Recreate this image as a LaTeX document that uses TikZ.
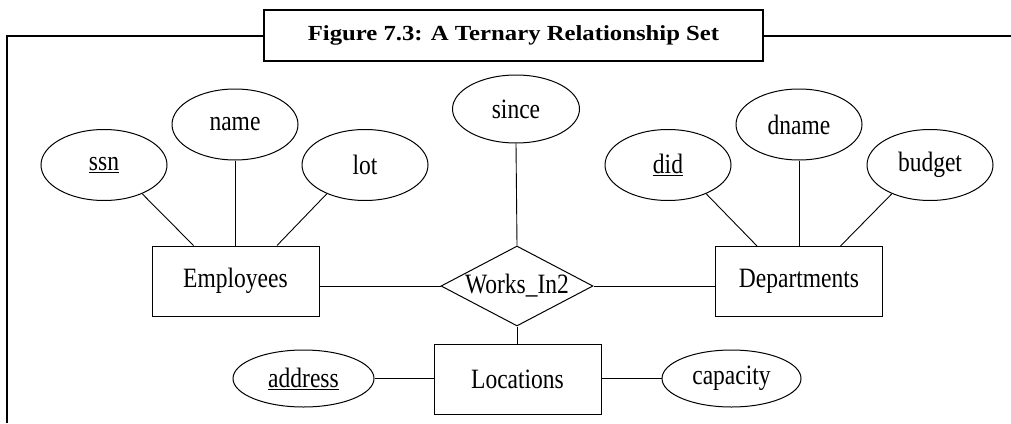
\documentclass[tikz,border=0pt]{standalone}
\usepackage{fontspec}
\setmainfont{Liberation Serif}[FakeStretch=0.84]
\newfontfamily\titlefont{Liberation Serif}[FakeStretch=1.15]
\usetikzlibrary{shapes.geometric}

\begin{document}
\begin{tikzpicture}[x=1pt, y=-1pt,
        every node/.style={font=\fontsize{28}{32}\selectfont},
        entity/.style={draw, line width=1pt, minimum width=167pt, minimum height=70pt, inner sep=0pt},
        attr/.style={draw, ellipse, line width=1pt, minimum width=126pt, minimum height=71pt, inner sep=0pt},
        relship/.style={draw, diamond, aspect=1.9, line width=1pt, minimum width=152pt, minimum height=80pt, inner sep=0pt},
        conn/.style={line width=0.9pt},
        frameline/.style={line width=2pt}]
        \useasboundingbox (0,0) rectangle (1011,423);

        % title box and frame
        \node (title) at (513.5,35.5)[frameline, draw, minimum width=499pt, minimum height=51pt, inner sep=0pt,
            font=\titlefont\bfseries\fontsize{21.5}{24}\selectfont]{Figure 7.3: A Ternary Relationship Set};
        \draw[frameline] (title.west) -- (7,35.5) -- (7,423);
        \draw[frameline] (title.east) -- (1011,35.5);

        % entities and relationship
        \node (emp) at (235.5,281)[entity]{Employees};
        \node (dept) at (799,281.5)[entity]{Departments};
        \node (loc) at (517.5,379)[entity]{Locations};
        \node (works) at (517,286)[relship]{Works\_In2};

        % attributes
        \node (ssn) at (104,165)[attr]{\underline{ssn}};
        \node (name) at (235,124.5)[attr]{name};
        \node (lot) at (365,165)[attr]{lot};
        \node (since) at (516,109)[attr, minimum width=127pt, minimum height=68pt]{since};
        \node (did) at (668,165)[attr]{\underline{did}};
        \node (dname) at (799,124.5)[attr]{dname};
        \node (budget) at (930,165)[attr]{budget};
        \node (address) at (303.5,378.5)[attr, minimum width=141pt, minimum height=57pt]{\underline{address}};
        \node (capacity) at (731.5,378.5)[attr, minimum width=139pt, minimum height=57pt]{capacity};

        % connectors
        \draw[conn] (ssn.-37) -- ([xshift=-42pt]emp.north);
        \draw[conn] (name.south) -- (name.south |- emp.north);
        \draw[conn] (lot.-143) -- ([xshift=41.5pt]emp.north);
        \draw[conn] (did.-37) -- ([xshift=-42pt]dept.north);
        \draw[conn] (dname.south) -- (dname.south |- dept.north);
        \draw[conn] (budget.-143) -- ([xshift=41.5pt]dept.north);
        \draw[conn] (since.south) -- (works.north);
        \draw[conn] (works.west) -- (works.west -| emp.east);
        \draw[conn] (works.east) -- (works.east -| dept.west);
        \draw[conn] (works.south) -- (works.south |- loc.north);
        \draw[conn] (address.east) -- (address.east -| loc.west);
        \draw[conn] (capacity.west) -- (capacity.west -| loc.east);
    \end{tikzpicture}
\end{document}
